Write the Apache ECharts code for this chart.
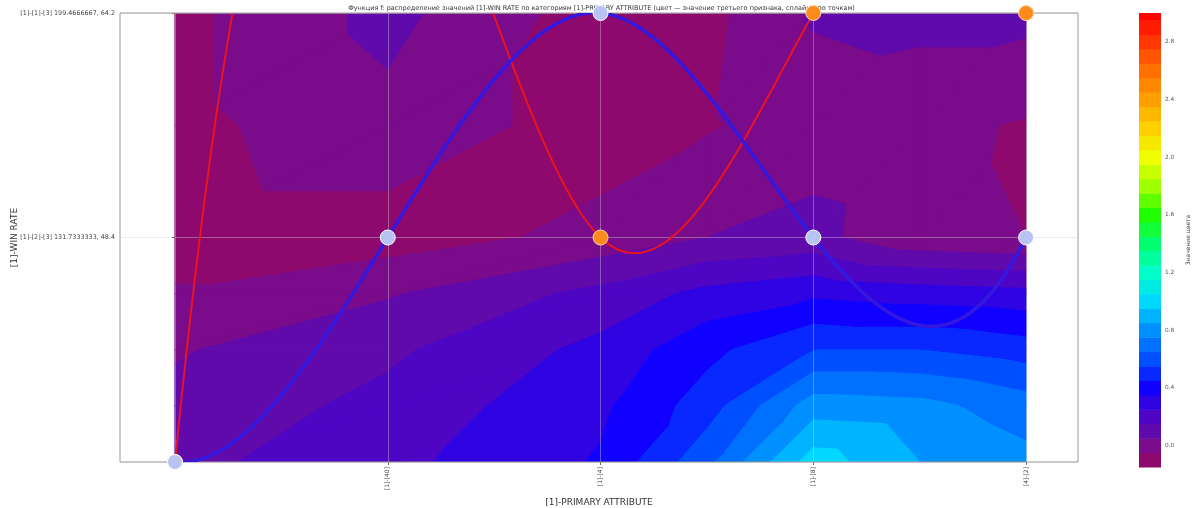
<!DOCTYPE html>
<html><head><meta charset="utf-8">
<script src="https://cdn.jsdelivr.net/npm/echarts@6/dist/echarts.min.js"></script>
<style>html,body{margin:0;padding:0;background:#fff}#c{width:1203px;height:508px}</style>
</head><body><div id="c"></div><script>
// ---------- data ----------
const categories = ['', '[1]-[40]', '[1]-[4]', '[1]-[8]', '[4]-[2]'];
const yTickValues = [0, 1, 2];
const yTickLabels = ['', '[1]-[2]-[3] 131.7333333, 48.4', '[1]-[1]-[3] 199.4666667, 64.2'];
const blueValues = [0, 1, 2, 1, 1];
const redValues = [0, 3.1, 1, 2, 2];
const fieldCols = [0, 1, 2, 2.5, 3, 3.5, 4];
const fieldRows = [0, 0.25, 0.5, 0.75, 1, 1.5, 2];
const field = [
  [0.12, 0.22, 0.36, 0.62, 1.00, 0.85, 0.78],
  [0.08, 0.18, 0.33, 0.50, 0.80, 0.78, 0.70],
  [0.04, 0.13, 0.28, 0.42, 0.55, 0.55, 0.50],
  [-0.04, 0.04, 0.18, 0.28, 0.33, 0.30, 0.28],
  [-0.10, -0.10, -0.02, 0.05, 0.08, -0.03, -0.05],
  [-0.08, 0.02, -0.10, -0.06, 0.00, -0.02, -0.06],
  [-0.08, 0.08, -0.10, -0.08, 0.06, 0.08, 0.08]
];
const levels = [];
for (let k = 0; k <= 31; k++) levels.push(+(-0.15 + 0.1 * k).toFixed(2));
levels.push(3.0);
const colorbarTicks = [0, 0.4, 0.8, 1.2, 1.6, 2.0, 2.4, 2.8];
const titleText = 'Функция f: распределение значений [1]-WIN RATE по категориям [1]-PRIMARY ATTRIBUTE (цвет — значение третьего признака, сплайны по точкам)';

// ---------- colormap ----------
const cmapStops = [
  [-0.15, [145, 8, 100]], [-0.05, [138, 10, 118]], [0.05, [105, 12, 160]], [0.2, [78, 6, 196]], [0.4, [16, 0, 255]],
  [0.6, [0, 80, 255]], [0.8, [0, 144, 255]], [1.0, [0, 216, 255]], [1.2, [0, 255, 200]],
  [1.4, [0, 255, 112]], [1.6, [32, 255, 0]], [1.8, [160, 255, 0]], [2.0, [240, 255, 0]],
  [2.2, [255, 208, 0]], [2.4, [255, 160, 0]], [2.6, [255, 112, 0]], [2.8, [255, 56, 0]], [3.0, [255, 0, 0]]
];
function cmap(v) {
  if (v <= cmapStops[0][0]) return 'rgb(' + cmapStops[0][1].join(',') + ')';
  for (let i = 1; i < cmapStops.length; i++) {
    if (v <= cmapStops[i][0]) {
      const a = cmapStops[i - 1], b = cmapStops[i];
      const t = (v - a[0]) / (b[0] - a[0]);
      const c = a[1].map((x, k) => Math.round(x + (b[1][k] - x) * t));
      return 'rgb(' + c.join(',') + ')';
    }
  }
  return 'rgb(' + cmapStops[cmapStops.length - 1][1].join(',') + ')';
}
const bandColor = (k) => cmap((levels[k] + levels[k + 1]) / 2);

// ---------- triangles ----------
const triangles = [];
for (let j = 0; j < fieldRows.length - 1; j++) {
  for (let i = 0; i < fieldCols.length - 1; i++) {
    const p = (ii, jj) => [fieldCols[ii], fieldRows[jj], field[jj][ii]];
    const a = p(i, j), b = p(i + 1, j), c = p(i + 1, j + 1), d = p(i, j + 1);
    triangles.push([...a, ...b, ...c]);
    triangles.push([...a, ...c, ...d]);
  }
}
function clip(poly, lv, keepAbove) {
  const out = [];
  for (let i = 0; i < poly.length; i++) {
    const P = poly[i], Q = poly[(i + 1) % poly.length];
    const pin = keepAbove ? P[2] >= lv : P[2] <= lv;
    const qin = keepAbove ? Q[2] >= lv : Q[2] <= lv;
    if (pin) out.push(P);
    if (pin !== qin) {
      const t = (lv - P[2]) / (Q[2] - P[2]);
      out.push([P[0] + (Q[0] - P[0]) * t, P[1] + (Q[1] - P[1]) * t, lv]);
    }
  }
  return out;
}
function renderTri(params, api) {
  const d = triangles[params.dataIndex];
  const tri = [[d[0], d[1], d[2]], [d[3], d[4], d[5]], [d[6], d[7], d[8]]];
  const children = [];
  for (let k = 0; k < levels.length - 1; k++) {
    let poly = clip(tri, levels[k], true);
    if (poly.length < 3) continue;
    poly = clip(poly, levels[k + 1], false);
    if (poly.length < 3) continue;
    const pts = poly.map(p => api.coord([p[0], p[1]]));
    const col = bandColor(k);
    children.push({ type: 'polygon', shape: { points: pts }, style: { fill: col, stroke: col, lineWidth: 1.2, lineJoin: 'round' } });
  }
  return { type: 'group', children };
}

// ---------- spline (not-a-knot) ----------
function spline(ys) {
  const n = ys.length;
  const A = [], r = [];
  for (let i = 0; i < n; i++) { A.push(new Array(n).fill(0)); r.push(0); }
  A[0][0] = 1; A[0][1] = -2; A[0][2] = 1;
  for (let i = 1; i < n - 1; i++) {
    A[i][i - 1] = 1; A[i][i] = 4; A[i][i + 1] = 1;
    r[i] = 6 * (ys[i - 1] - 2 * ys[i] + ys[i + 1]);
  }
  A[n - 1][n - 3] = 1; A[n - 1][n - 2] = -2; A[n - 1][n - 1] = 1;
  for (let c = 0; c < n; c++) {
    let piv = c;
    for (let k = c + 1; k < n; k++) if (Math.abs(A[k][c]) > Math.abs(A[piv][c])) piv = k;
    [A[c], A[piv]] = [A[piv], A[c]]; [r[c], r[piv]] = [r[piv], r[c]];
    for (let k = 0; k < n; k++) {
      if (k === c) continue;
      const f = A[k][c] / A[c][c];
      for (let m = c; m < n; m++) A[k][m] -= f * A[c][m];
      r[k] -= f * r[c];
    }
  }
  const M = r.map((v, i) => v / A[i][i]);
  const pts = [];
  for (let i = 0; i < n - 1; i++) {
    const b = (ys[i + 1] - ys[i]) - (2 * M[i] + M[i + 1]) / 6;
    for (let s = 0; s < 80; s++) {
      const t = s / 80;
      pts.push([i + t, ys[i] + b * t + M[i] / 2 * t * t + (M[i + 1] - M[i]) / 6 * t * t * t]);
    }
  }
  pts.push([n - 1, ys[n - 1]]);
  return pts;
}
function lineSeries(vals, color, width, z) {
  return {
    type: 'custom', xAxisIndex: 0, yAxisIndex: 0, z, clip: true, silent: true,
    data: [0],
    renderItem: (params, api) => ({
      type: 'polyline',
      shape: { points: spline(vals).map(p => api.coord(p)) },
      style: { stroke: color, lineWidth: width, fill: null, lineJoin: 'round' }
    })
  };
}

// ---------- chart ----------
const chart = echarts.init(document.getElementById('c'), null, { renderer: 'canvas' });
const font = 'DejaVu Sans';
chart.setOption({
  animation: false,
  backgroundColor: '#fff',
  textStyle: { fontFamily: font },
  title: { text: titleText, left: 'center', top: 0, textStyle: { fontSize: 6.5, fontWeight: 'normal', color: '#333', fontFamily: font } },
  grid: [
    { left: 120, top: 13, width: 958, height: 449, show: true, borderColor: '#9a9a9a', borderWidth: 1, backgroundColor: 'transparent', z: 6, containLabel: false, outerBoundsMode: 'none' },
    { left: 1139, top: 13, width: 22, height: 454, show: false, containLabel: false, outerBoundsMode: 'none' }
  ],
  xAxis: [
    { type: 'value', gridIndex: 0, min: -0.2585, max: 4.244, z: 4,
      name: '[1]-PRIMARY ATTRIBUTE', nameLocation: 'middle', nameGap: 28,
      nameTextStyle: { fontSize: 9, color: '#333' },
      axisLine: { show: false },
      axisTick: { show: true, length: 3, lineStyle: { color: '#666' }, customValues: [0, 1, 2, 3, 4] },
      axisLabel: { rotate: 90, fontSize: 6, color: '#444', margin: 5, customValues: [0, 1, 2, 3, 4], formatter: v => categories[Math.round(v)] },
      splitLine: { show: true, lineStyle: { color: 'rgba(210,210,210,0.5)', width: 0.8 } }
    },
    { type: 'value', gridIndex: 1, min: 0, max: 1, show: false }
  ],
  yAxis: [
    { type: 'value', gridIndex: 0, min: 0, max: 2, interval: 1, z: 4,
      name: '[1]-WIN RATE', nameLocation: 'middle', nameGap: 101, nameRotate: 90, nameMoveOverlap: false,
      nameTextStyle: { fontSize: 9, color: '#333' },
      axisLine: { show: false },
      axisTick: { show: true, length: 3, lineStyle: { color: '#666' } },
      axisLabel: { fontSize: 6.4, color: '#444', margin: 5, formatter: v => yTickLabels[yTickValues.indexOf(v)] || '' },
      splitLine: { show: true, lineStyle: { color: 'rgba(210,210,210,0.5)', width: 0.8 } }
    },
    { type: 'value', gridIndex: 1, min: -0.15, max: 3.0, position: 'right',
      name: 'Значение цвета', nameLocation: 'middle', nameRotate: 90, nameGap: 24,
      nameTextStyle: { fontSize: 6, color: '#444' },
      axisLine: { show: false },
      axisTick: { show: true, length: 3, lineStyle: { color: '#666' }, customValues: colorbarTicks },
      axisLabel: { fontSize: 5.8, color: '#555', margin: 4, customValues: colorbarTicks, formatter: v => v.toFixed(1) },
      splitLine: { show: false }
    }
  ],
  series: [
    { type: 'custom', xAxisIndex: 0, yAxisIndex: 0, z: 1, silent: true, clip: true,
      data: triangles.map((t, i) => i), renderItem: renderTri },
    lineSeries(redValues, '#e8141e', 2, 5),
    lineSeries(blueValues, '#3418e0', 3.5, 6),
    { type: 'scatter', xAxisIndex: 0, yAxisIndex: 0, z: 7, clip: true, symbolSize: 15,
      data: redValues.map((v, i) => [i, v]),
      itemStyle: { color: '#ff8a1c', borderColor: '#ffd8b0', borderWidth: 1, opacity: 1 } },
    { type: 'scatter', xAxisIndex: 0, yAxisIndex: 0, z: 8, clip: true, symbolSize: 15,
      data: blueValues.map((v, i) => [i, v]),
      itemStyle: { color: '#b6c3f3', borderColor: '#ffffff', borderWidth: 1, opacity: 1 } },
    { type: 'custom', xAxisIndex: 1, yAxisIndex: 1, silent: true,
      data: levels.slice(0, -1).map((l, k) => k),
      renderItem: (params, api) => {
        const k = params.dataIndex;
        const p0 = api.coord([0, levels[k]]), p1 = api.coord([1, levels[k + 1]]);
        return { type: 'rect', shape: { x: p0[0], y: p1[1], width: p1[0] - p0[0], height: p0[1] - p1[1] + 0.5 },
          style: { fill: bandColor(k) } };
      } }
  ]
});
</script></body></html>
